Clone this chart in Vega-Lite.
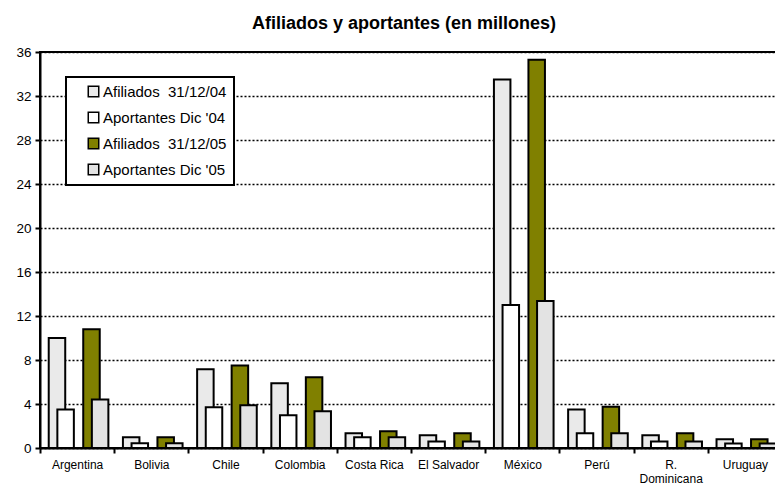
{
  "$schema": "https://vega.github.io/schema/vega-lite/v6.json",
  "autosize": {"type": "none"},
  "padding": {"left": 40, "top": 52, "right": -7, "bottom": 38},
  "width": 742,
  "height": 396,
  "background": "white",
  "title": {
    "text": "Afiliados y aportantes (en millones)",
    "font": "Liberation Sans",
    "fontSize": 18,
    "fontWeight": "bold",
    "color": "black",
    "anchor": "middle",
    "baseline": "alphabetic",
    "offset": 21,
    "dx": -7,
    "dy": 23
  },
  "config": {
    "view": {"stroke": "black", "strokeWidth": 2},
    "font": "Liberation Sans"
  },
  "data": {
    "values": [
      {"pais": "Argentina", "serie": "Afiliados  31/12/04", "valor": 10.0},
      {"pais": "Argentina", "serie": "Aportantes Dic '04", "valor": 3.5},
      {"pais": "Argentina", "serie": "Afiliados  31/12/05", "valor": 10.8},
      {"pais": "Argentina", "serie": "Aportantes Dic '05", "valor": 4.4},
      {"pais": "Bolivia", "serie": "Afiliados  31/12/04", "valor": 0.97},
      {"pais": "Bolivia", "serie": "Aportantes Dic '04", "valor": 0.43},
      {"pais": "Bolivia", "serie": "Afiliados  31/12/05", "valor": 0.97},
      {"pais": "Bolivia", "serie": "Aportantes Dic '05", "valor": 0.43},
      {"pais": "Chile", "serie": "Afiliados  31/12/04", "valor": 7.15},
      {"pais": "Chile", "serie": "Aportantes Dic '04", "valor": 3.7},
      {"pais": "Chile", "serie": "Afiliados  31/12/05", "valor": 7.5},
      {"pais": "Chile", "serie": "Aportantes Dic '05", "valor": 3.88},
      {"pais": "Colombia", "serie": "Afiliados  31/12/04", "valor": 5.88},
      {"pais": "Colombia", "serie": "Aportantes Dic '04", "valor": 2.97},
      {"pais": "Colombia", "serie": "Afiliados  31/12/05", "valor": 6.43},
      {"pais": "Colombia", "serie": "Aportantes Dic '05", "valor": 3.33},
      {"pais": "Costa Rica", "serie": "Afiliados  31/12/04", "valor": 1.33},
      {"pais": "Costa Rica", "serie": "Aportantes Dic '04", "valor": 0.97},
      {"pais": "Costa Rica", "serie": "Afiliados  31/12/05", "valor": 1.52},
      {"pais": "Costa Rica", "serie": "Aportantes Dic '05", "valor": 0.97},
      {"pais": "El Salvador", "serie": "Afiliados  31/12/04", "valor": 1.15},
      {"pais": "El Salvador", "serie": "Aportantes Dic '04", "valor": 0.6},
      {"pais": "El Salvador", "serie": "Afiliados  31/12/05", "valor": 1.33},
      {"pais": "El Salvador", "serie": "Aportantes Dic '05", "valor": 0.6},
      {"pais": "México", "serie": "Afiliados  31/12/04", "valor": 33.5},
      {"pais": "México", "serie": "Aportantes Dic '04", "valor": 13.0},
      {"pais": "México", "serie": "Afiliados  31/12/05", "valor": 35.3},
      {"pais": "México", "serie": "Aportantes Dic '05", "valor": 13.36},
      {"pais": "Perú", "serie": "Afiliados  31/12/04", "valor": 3.5},
      {"pais": "Perú", "serie": "Aportantes Dic '04", "valor": 1.33},
      {"pais": "Perú", "serie": "Afiliados  31/12/05", "valor": 3.76},
      {"pais": "Perú", "serie": "Aportantes Dic '05", "valor": 1.33},
      {"pais": "R. Dominicana", "serie": "Afiliados  31/12/04", "valor": 1.15},
      {"pais": "R. Dominicana", "serie": "Aportantes Dic '04", "valor": 0.6},
      {"pais": "R. Dominicana", "serie": "Afiliados  31/12/05", "valor": 1.33},
      {"pais": "R. Dominicana", "serie": "Aportantes Dic '05", "valor": 0.6},
      {"pais": "Uruguay", "serie": "Afiliados  31/12/04", "valor": 0.79},
      {"pais": "Uruguay", "serie": "Aportantes Dic '04", "valor": 0.42},
      {"pais": "Uruguay", "serie": "Afiliados  31/12/05", "valor": 0.79},
      {"pais": "Uruguay", "serie": "Aportantes Dic '05", "valor": 0.42}
    ]
  },
  "mark": {"type": "bar", "width": 16.5, "stroke": "black", "strokeWidth": 2, "strokeJoin": "miter"},
  "encoding": {
    "x": {
      "field": "pais",
      "type": "nominal",
      "sort": null,
      "scale": {"paddingInner": 0, "paddingOuter": 0},
      "axis": {
        "title": null,
        "labelAngle": 0,
        "labelFont": "Liberation Sans",
        "labelFontSize": 12,
        "labelColor": "black",
        "labelPadding": 6,
        "labelLineHeight": 14,
        "labelExpr": "datum.value == 'R. Dominicana' ? ['R.', 'Dominicana'] : datum.value",
        "tickBand": "extent",
        "tickSize": 5,
        "tickColor": "black",
        "tickWidth": 2,
        "domainColor": "black",
        "domainWidth": 2,
        "grid": false
      }
    },
    "xOffset": {
      "field": "serie",
      "type": "nominal",
      "scale": {
        "domain": ["g0", "Afiliados  31/12/04", "Aportantes Dic '04", "g1", "g2", "Afiliados  31/12/05", "Aportantes Dic '05", "g3"],
        "paddingInner": 0,
        "paddingOuter": 0.3,
        "align": 0.78
      }
    },
    "y": {
      "field": "valor",
      "type": "quantitative",
      "scale": {"domain": [0, 36], "nice": false},
      "axis": {
        "title": null,
        "values": [0, 4, 8, 12, 16, 20, 24, 28, 32, 36],
        "labelFont": "Liberation Sans",
        "labelFontSize": 13.5,
        "labelColor": "black",
        "labelPadding": 4,
        "tickSize": 5,
        "tickColor": "black",
        "tickWidth": 2,
        "domainColor": "black",
        "domainWidth": 2,
        "grid": true,
        "gridColor": "black",
        "gridWidth": 1.5,
        "gridDash": [2, 2]
      }
    },
    "color": {
      "field": "serie",
      "type": "nominal",
      "scale": {
        "domain": ["Afiliados  31/12/04", "Aportantes Dic '04", "Afiliados  31/12/05", "Aportantes Dic '05"],
        "range": ["#EAEAEA", "#FFFFFF", "#808000", "#E3E3E3"]
      },
      "legend": {
        "title": null,
        "orient": "none",
        "legendX": 26,
        "legendY": 25,
        "direction": "vertical",
        "fillColor": "white",
        "strokeColor": "black",
        "padding": 7,
        "symbolType": "square",
        "symbolSize": 110,
        "symbolStrokeColor": "black",
        "symbolStrokeWidth": 1.5,
        "symbolOffset": 13,
        "labelFont": "Liberation Sans",
        "labelFontSize": 15,
        "labelColor": "black",
        "labelOffset": 2,
        "rowPadding": 9,
        "labelLimit": 300,
        "labelExpr": "replace(datum.label, '  ', ' \u00a0')",
        "encode": {"legend": {"update": {"strokeWidth": {"value": 2}}}}
      }
    }
  }
}
